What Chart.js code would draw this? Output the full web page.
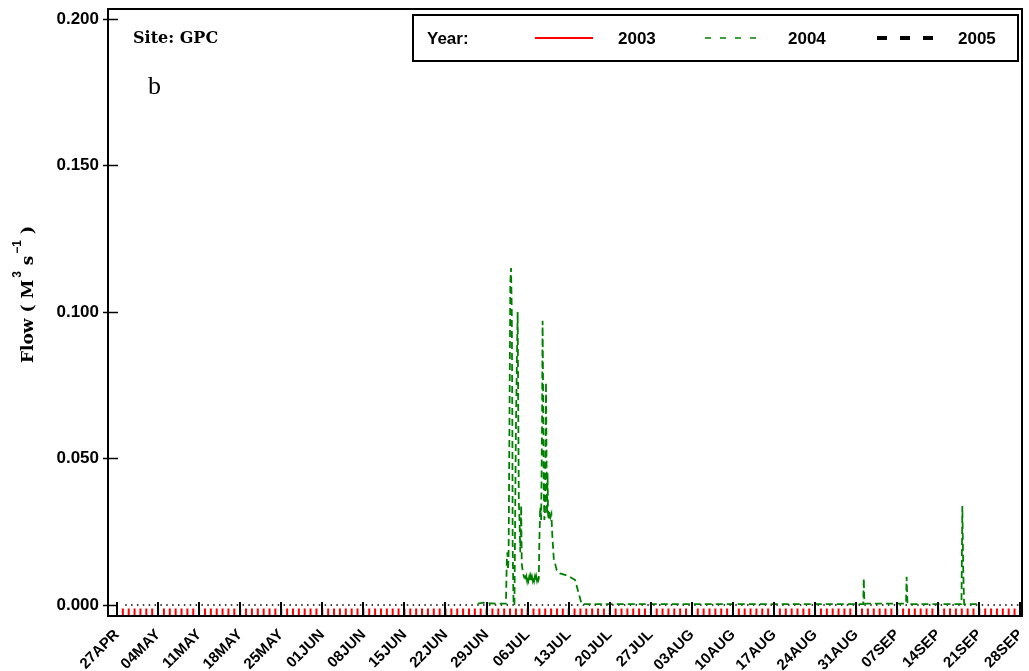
<!DOCTYPE html>
<html><head><meta charset="utf-8">
<script src="https://cdn.jsdelivr.net/npm/chart.js@4.4.0/dist/chart.umd.min.js"></script>
<style>html,body{margin:0;padding:0;background:#fff;overflow:hidden}canvas{display:block}</style>
</head><body>
<canvas id="c" width="1029" height="671"></canvas>
<script>
// ---- tick labels (days counted from 27 April) ----
const tickDays   = [0, 7, 14, 21, 28, 35, 42, 49, 56, 63, 70, 77, 84, 91, 98, 105, 112, 119, 126, 133, 140, 147, 154];
const tickLabels = ['27APR','04MAY','11MAY','18MAY','25MAY','01JUN','08JUN','15JUN','22JUN','29JUN','06JUL','13JUL','20JUL','27JUL','03AUG','10AUG','17AUG','24AUG','31AUG','07SEP','14SEP','21SEP','28SEP'];
const yTickValues = [0, 0.05, 0.10, 0.15, 0.20];

// ---- series ----
const seriesNames = ['2003', '2004', '2005'];
const days2003 = [0.83, 153.2];
const flow2003 = [-0.0024, -0.0024];

const days2004 = [61.5, 62.5, 63.5, 64.5, 65.5, 66.3,
  66.45, 66.55, 66.65, 66.75, 66.9, 67.05, 67.17, 67.3, 67.4, 67.45, 67.6, 67.75,
  68.0, 68.3, 68.42, 68.5, 68.6, 68.75, 68.9, 69.0, 69.2, 69.4,
  69.55, 69.67, 69.79, 69.91, 70.03, 70.15, 70.27, 70.39, 70.51, 70.63, 70.75, 70.87, 70.99, 71.11, 71.23, 71.35, 71.47, 71.59, 71.71, 71.83,
  71.9, 72.0, 72.15, 72.3, 72.45, 72.55, 72.65, 72.75, 72.85, 72.95, 73.05, 73.13, 73.22, 73.3, 73.4, 73.48, 73.6, 73.75, 73.9, 74.05, 74.2, 74.45, 74.95,
  75.5, 76.5, 77.3, 78.1, 78.7, 79.2,
  85, 95, 105, 115, 127.2, 127.3, 127.4,
  131, 134.5, 134.6, 134.75,
  139, 143.95, 144.1, 144.25, 144.4, 146.6];
const flow2004 = [0.0005, 0.0008, 0.0006, 0.0005, 0.0005, 0.0005,
  0.015, 0.018, 0.012, 0.016, 0.060, 0.110, 0.115, 0.100, 0.060, 0.020, 0.000, 0.000,
  0.060, 0.100, 0.060, 0.035, 0.030, 0.018, 0.034, 0.014, 0.011, 0.0095,
  0.0097, 0.0083, 0.0096, 0.0082, 0.0097, 0.0084, 0.0096, 0.0083, 0.0097, 0.0082, 0.0096, 0.0084, 0.0097, 0.0083, 0.0096, 0.0082, 0.0097, 0.0084, 0.0096, 0.0085,
  0.009, 0.022, 0.0335, 0.029, 0.060, 0.097, 0.070, 0.040, 0.029, 0.031, 0.050, 0.076, 0.050, 0.031, 0.045, 0.031, 0.029, 0.032, 0.030, 0.031, 0.024, 0.016, 0.012,
  0.0108, 0.0102, 0.0095, 0.0085, 0.004, 0.0003,
  0.0003, 0.0003, 0.0003, 0.0003, 0.0003, 0.0091, 0.0005,
  0.0005, 0.0005, 0.0096, 0.0003,
  0.0003, 0.0003, 0.0338, 0.0126, 0.0003, 0.0003];

const days2005 = [1.4, 154];
const flow2005 = [0, 0];

const seriesColors = ['#ff0000', '#008000', '#000000'];

const SANS = "'Liberation Sans', Arial, Helvetica, sans-serif";
const SERIF = "'DejaVu Serif', 'Liberation Serif', serif";

const toPts = (xs, ys) => xs.map((x, i) => ({x: x, y: ys[i]}));
const dayPx = ctx => { const s = ctx.chart.scales.x; return Math.abs(s.getPixelForValue(1) - s.getPixelForValue(0)); };

const decorPlugin = {
  id: 'decor',
  afterDraw(chart) {
    const ctx = chart.ctx, a = chart.chartArea, xs = chart.scales.x, ys = chart.scales.y;
    ctx.save();
    // frame
    ctx.strokeStyle = '#000'; ctx.lineWidth = 2;
    ctx.strokeRect(a.left, a.top, a.right - a.left, a.bottom - a.top);
    // x ticks (inside)
    ctx.lineWidth = 2;
    tickDays.forEach(d => {
      const px = Math.round(xs.getPixelForValue(d));
      ctx.beginPath(); ctx.moveTo(px, a.bottom); ctx.lineTo(px, a.bottom - 14); ctx.stroke();
    });
    // y ticks (crossing)
    ctx.lineWidth = 1.5;
    yTickValues.forEach(v => {
      const py = Math.round(ys.getPixelForValue(v)) + 0.5;
      ctx.beginPath(); ctx.moveTo(a.left - 5, py); ctx.lineTo(a.left + 10, py); ctx.stroke();
    });
    // annotations
    ctx.fillStyle = '#000';
    ctx.textBaseline = 'alphabetic'; ctx.textAlign = 'left';
    ctx.font = "bold 16px " + SERIF;
    ctx.fillText('Site: GPC', 133, 43);
    ctx.font = "26px 'Liberation Serif', serif";
    ctx.fillText('b', 148, 94);
    // y axis title
    ctx.save();
    ctx.translate(33, 363);
    ctx.rotate(-Math.PI / 2);
    let x = 0;
    const part = (t, font, dy) => { ctx.font = font; ctx.fillText(t, x, dy); x += ctx.measureText(t).width; };
    const big = "bold 17px " + SERIF, sup = "bold 12px " + SANS;
    part('Flow ( M', big, 0);
    x += 2;
    part('3', sup, -12);
    part(' s', big, 0);
    x += 2;
    part('\u22121', sup, -12);
    part(' )', big, 0);
    ctx.restore();
    // legend
    ctx.lineWidth = 2; ctx.strokeStyle = '#000';
    ctx.strokeRect(413, 15, 605, 46);
    ctx.font = "bold 17px " + SANS;
    ctx.textBaseline = 'middle';
    ctx.fillText('Year:', 427, 39);
    const leg = [
      {x1: 535, x2: 593, tx: 618, dash: [], w: 2},
      {x1: 705, x2: 764, tx: 788, dash: [6, 9], w: 1.5},
      {x1: 877, x2: 933, tx: 958, dash: [10, 13], w: 4}
    ];
    leg.forEach((l, i) => {
      ctx.save();
      ctx.strokeStyle = seriesColors[i]; ctx.lineWidth = l.w; ctx.setLineDash(l.dash); ctx.lineCap = 'butt';
      ctx.beginPath(); ctx.moveTo(l.x1, 38); ctx.lineTo(l.x2, 38); ctx.stroke();
      ctx.restore();
      ctx.fillStyle = '#000';
      ctx.fillText(seriesNames[i], l.tx, 39);
    });
    ctx.restore();
  }
};

new Chart(document.getElementById('c'), {
  type: 'line',
  data: {
    datasets: [
      {label: seriesNames[0], data: toPts(days2003, flow2003), borderColor: seriesColors[0], borderWidth: 7,
       borderDash: ctx => { const p = dayPx(ctx); return [2, p - 2]; }, borderCapStyle: 'butt', pointRadius: 0, order: 3},
      {label: seriesNames[1], data: toPts(days2004, flow2004), borderColor: seriesColors[1], borderWidth: 1.8,
       borderDash: [7, 4], pointRadius: 0, tension: 0, order: 1},
      {label: seriesNames[2], data: toPts(days2005, flow2005), borderColor: seriesColors[2], borderWidth: 1.5,
       borderDash: ctx => { const p = dayPx(ctx); return [1.5, p - 1.5]; }, borderCapStyle: 'butt', pointRadius: 0, order: 2}
    ]
  },
  options: {
    responsive: false, animation: false, devicePixelRatio: 1,
    layout: {padding: {top: 9, right: 7, left: 0, bottom: 0}},
    plugins: {legend: {display: false}, tooltip: {enabled: false}},
    scales: {
      x: {
        type: 'linear', min: -1.53, max: 154.27,
        afterBuildTicks: s => { s.ticks = tickDays.map(v => ({value: v})); },
        afterFit: s => { s.height = 55; s.paddingLeft = 0; s.paddingRight = 0; },
        ticks: {autoSkip: false, minRotation: 45, maxRotation: 45, padding: 10, color: '#000',
                font: {family: SANS, size: 15, weight: 'bold'},
                callback: v => { const i = tickDays.indexOf(v); return i >= 0 ? tickLabels[i] : ''; }},
        grid: {display: false, drawTicks: false},
        border: {display: false}
      },
      y: {
        min: -0.00375, max: 0.2034,
        afterBuildTicks: s => { s.ticks = yTickValues.map(v => ({value: v})); },
        afterFit: s => { s.width = 108; s.paddingTop = 0; s.paddingBottom = 0; },
        ticks: {padding: 9, color: '#000', font: {family: SANS, size: 17, weight: 'bold'},
                callback: v => Number(v).toFixed(3)},
        grid: {display: false, drawTicks: false},
        border: {display: false}
      }
    }
  },
  plugins: [decorPlugin]
});
</script>
</body></html>
